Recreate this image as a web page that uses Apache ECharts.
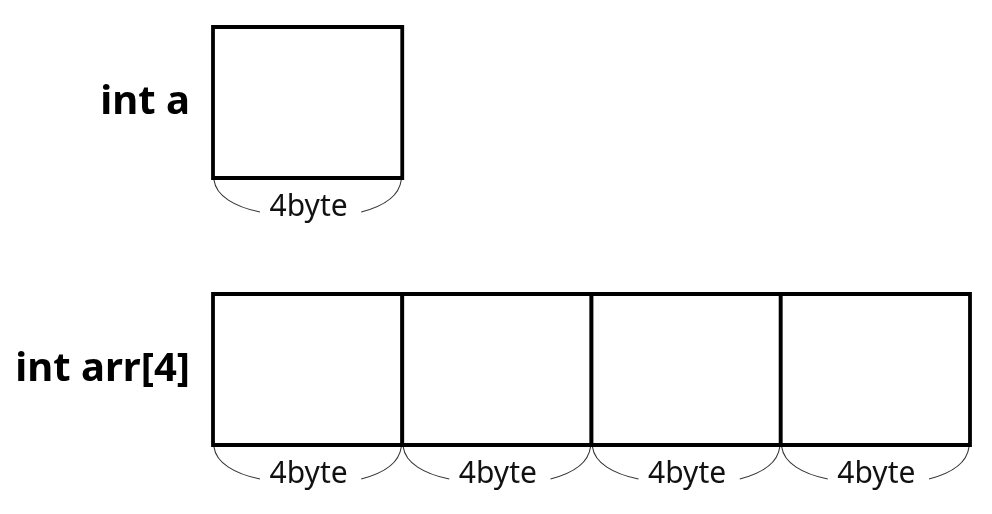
<!DOCTYPE html>
<html>
<head>
<meta charset="utf-8">
<script src="https://cdn.jsdelivr.net/npm/echarts@6/dist/echarts.min.js"></script>
<style>
  html, body { margin: 0; padding: 0; background: #fff; }
  #main { width: 992px; height: 514px; }
</style>
</head>
<body>
<div id="main"></div>
<script>
// variables shown in the memory diagram
const variables = ['int a', 'int arr[4]']
const cellCounts = [1, 4]
const cellBytes = [4, 4]
const xMax = 4

const cells = []
variables.forEach((v, row) => {
  for (let i = 0; i < cellCounts[row]; i++) {
    cells.push([i, row, cellBytes[row]])
  }
})

const chart = echarts.init(document.getElementById('main'))

function renderCell(params, api) {
  const i = api.value(0)
  const row = api.value(1)
  const bytes = api.value(2)
  const left = api.coord([i, row])
  const right = api.coord([i + 1, row])
  const cy = left[1]
  const halfH = 75.5
  const x0 = left[0]
  const x1 = right[0]
  const bottom = cy + halfH
  const midX = (x0 + x1) / 2
  const braceStyle = { stroke: '#333', lineWidth: 1.1, fill: null }
  return {
    type: 'group',
    children: [
      {
        type: 'rect',
        shape: { x: x0, y: cy - halfH, width: x1 - x0, height: halfH * 2 },
        style: { fill: '#fff', stroke: '#000', lineWidth: 3.8 }
      },
      {
        type: 'bezierCurve',
        shape: {
          x1: x0 + 1, y1: bottom + 2,
          cpx1: x0 + 3, cpy1: bottom + 18,
          cpx2: x0 + 22, cpy2: bottom + 29,
          x2: x0 + 47, y2: bottom + 34
        },
        style: braceStyle
      },
      {
        type: 'bezierCurve',
        shape: {
          x1: x1 - 1, y1: bottom + 2,
          cpx1: x1 - 3, cpy1: bottom + 18,
          cpx2: x1 - 18, cpy2: bottom + 28,
          x2: x1 - 41, y2: bottom + 34
        },
        style: braceStyle
      },
      {
        type: 'text',
        style: {
          x: midX + 1,
          y: bottom + 29,
          text: bytes + 'byte',
          fill: '#111',
          font: '30px "Noto Sans", sans-serif',
          align: 'center',
          verticalAlign: 'middle'
        }
      }
    ]
  }
}

chart.setOption({
  animation: false,
  grid: { left: 213, right: 22, top: 102.5, bottom: 144.5 },
  xAxis: {
    type: 'value',
    min: 0,
    max: xMax,
    show: false
  },
  yAxis: {
    type: 'category',
    data: variables,
    inverse: true,
    boundaryGap: false,
    axisLine: { show: false },
    axisTick: { show: false },
    splitLine: { show: false },
    axisLabel: {
      margin: 23,
      color: '#000',
      fontSize: 40,
      fontWeight: 'bold',
      fontFamily: '"Noto Sans", sans-serif',
      padding: [4, 0, 0, 0]
    }
  },
  series: [
    {
      type: 'custom',
      renderItem: renderCell,
      data: cells,
      clip: false
    }
  ]
})
</script>
</body>
</html>
